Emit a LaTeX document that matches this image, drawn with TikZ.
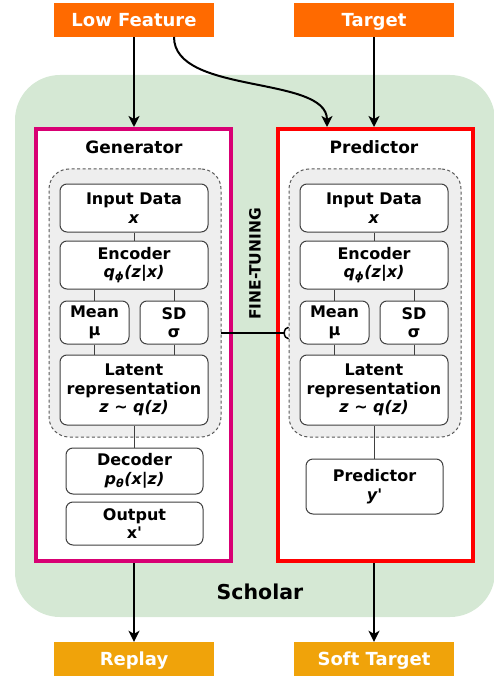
\documentclass[tikz,border=0pt]{standalone}
\usepackage{fontspec}
\setmainfont{DejaVu Sans}[Ligatures=TeXOff]
\usetikzlibrary{arrows.meta,positioning,calc}
\definecolor{lowfeat}{HTML}{FF6A00}
\definecolor{replay}{HTML}{F0A30A}
\definecolor{genpink}{HTML}{D80073}
\definecolor{predred}{HTML}{FF0000}
\definecolor{scholarbg}{HTML}{D5E8D4}
\definecolor{vaefill}{HTML}{EEEEEE}
\tikzset{
    io/.style={
        rectangle,
        fill=#1,
        text=white,
        font=\bfseries\fontsize{18}{20}\selectfont,
        minimum width=160pt,
        minimum height=34pt,
        text height=13pt,
        text depth=0pt,
        inner sep=0pt,
    },
    module/.style={
        rectangle,
        draw=#1,
        line width=4pt,
        fill=white,
        minimum width=195pt,
        minimum height=432pt,
    },
    vae/.style={
        rectangle,
        rounded corners=20pt,
        draw=black!65,
        line width=1pt,
        dash pattern=on 3pt off 2.5pt,
        fill=vaefill,
        minimum width=172pt,
        minimum height=268pt,
    },
    block/.style={
        rectangle,
        rounded corners=7pt,
        draw=black!75,
        fill=white,
        line width=1pt,
        align=center,
        inner sep=0pt,
        font=\bfseries\fontsize{16}{18.5}\selectfont,
    },
    heading/.style={
        font=\bfseries\fontsize{17}{20}\selectfont,
    },
    flow/.style={
        draw,
        line width=2pt,
        -{Stealth[length=11pt,width=11pt,inset=3pt]},
    },
    link/.style={
        draw=black!75,
        line width=1pt,
    },
    tune/.style={
        draw,
        line width=1.5pt,
        -{Arc Barb[reversed,length=5pt,width=13pt]},
    },
}
\begin{document}
\begin{tikzpicture}[x=1pt,y=1pt]
\useasboundingbox (0,0) rectangle (493,-679);
% scholar background
\fill[scholarbg, rounded corners=45pt] (15,-75) rectangle (495,-617);
\node[font=\bfseries\fontsize{20.5}{24}\selectfont] (SCH) at (260,-592) {Scholar};

% inputs and outputs
\node[io=lowfeat] (LF) at (134,-20) {Low Feature};
\node[io=lowfeat] (TG) at (374,-20) {Target};
\node[io=replay] (RP) at (134,-659) {Replay};
\node[io=replay] (ST) at (374,-659) {Soft Target};

% generator
\node[module=genpink] (GEN) at (133.5,-345) {};
\node[heading] (GENt) at (134,-147) {Generator};
\node[vae] (GV) at (135,-303) {};
\node[block, minimum width=148pt, minimum height=48pt] (GIn) at (134,-208) {Input Data\\\textit{x}};
\node[block, minimum width=148pt, minimum height=48pt] (GEnc) at (134,-265) {Encoder\\\textit{q\textsubscript{ϕ}(z|x)}};
\node[block, minimum width=69pt, minimum height=43pt] (GMean) at (94.5,-322.5) {Mean\\μ};
\node[block, minimum width=68pt, minimum height=43pt] (GSD) at (174,-322.5) {SD\\σ};
\node[block, minimum width=148pt, minimum height=70pt] (GLat) at (134,-390) {Latent\\representation\\\textit{z \textasciitilde\ q(z)}};
\node[block, minimum width=137pt, minimum height=46pt] (GDec) at (134.5,-471) {Decoder\\\textit{p\textsubscript{θ}(x|z)}};
\node[block, minimum width=137pt, minimum height=43pt] (GOut) at (134.5,-523.5) {Output\\x'};

% predictor
\node[module=predred] (PRED) at (375,-345) {};
\node[heading] (PREDt) at (374,-147) {Predictor};
\node[vae] (PV) at (375,-303) {};
\node[block, minimum width=148pt, minimum height=48pt] (PIn) at (374,-208) {Input Data\\\textit{x}};
\node[block, minimum width=148pt, minimum height=48pt] (PEnc) at (374,-265) {Encoder\\\textit{q\textsubscript{ϕ}(z|x)}};
\node[block, minimum width=69pt, minimum height=43pt] (PMean) at (334.5,-322.5) {Mean\\μ};
\node[block, minimum width=68pt, minimum height=43pt] (PSD) at (414,-322.5) {SD\\σ};
\node[block, minimum width=148pt, minimum height=70pt] (PLat) at (374,-390) {Latent\\representation\\\textit{z \textasciitilde\ q(z)}};
\node[block, minimum width=137pt, minimum height=55pt] (PPr) at (374.5,-486.5) {Predictor\\\textit{y'}};

% inner links
\draw[link] (GIn) -- (GEnc);
\draw[link] (GMean.north) -- (GMean.north |- GEnc.south);
\draw[link] (GSD.north) -- (GSD.north |- GEnc.south);
\draw[link] (GMean.south) -- (GMean.south |- GLat.north);
\draw[link] (GSD.south) -- (GSD.south |- GLat.north);
\draw[link] (GLat.south) -- (GLat.south |- GDec.north);
\draw[link] (PIn) -- (PEnc);
\draw[link] (PMean.north) -- (PMean.north |- PEnc.south);
\draw[link] (PSD.north) -- (PSD.north |- PEnc.south);
\draw[link] (PMean.south) -- (PMean.south |- PLat.north);
\draw[link] (PSD.south) -- (PSD.south |- PLat.north);
\draw[link] (PLat.south) -- (PLat.south |- PPr.north);

% fine-tuning
\coordinate (FT) at (221,-333);
\draw[tune] (FT) -- (FT -| PV.west);
\node[font=\bfseries\fontsize{15.5}{18}\selectfont, rotate=90] (FTt) at (255,-264) {FINE-TUNING};

% data flow
\coordinate (LFo) at (174,-37);
\coordinate (PRi) at (327,-127);
\draw[flow] (LF.south) -- (LF.south |- GEN.north);
\draw[flow] (TG.south) -- (TG.south |- PRED.north);
\draw[flow] (LFo) .. controls (174,-95) and (327,-75) .. (PRi);
\draw[flow] (RP.north |- GEN.south) -- (RP.north);
\draw[flow] (ST.north |- PRED.south) -- (ST.north);
\end{tikzpicture}
\end{document}
